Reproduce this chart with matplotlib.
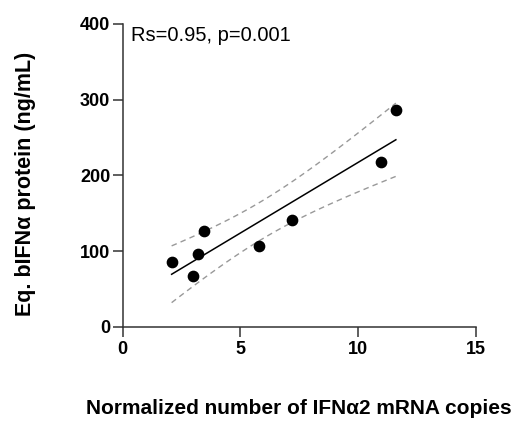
import numpy as np
import matplotlib
matplotlib.use("Agg")
import matplotlib.pyplot as plt

# values
mrna_copies = np.array([2.08, 3.0, 3.19, 3.44, 5.78, 7.21, 10.99, 11.61])
protein_ng = np.array([86, 67, 96, 126, 107, 141, 217, 286])
stats_text = "Rs=0.95, p=0.001"

plt.rcParams['font.family'] = ['Liberation Sans', 'DejaVu Sans']

fig = plt.figure(figsize=(5.17, 4.23), dpi=100)
ax = fig.add_axes([0.2373, 0.2277, 0.6827, 0.7156])

# linear fit with 95% confidence band
slope, intercept = np.polyfit(mrna_copies, protein_ng, 1)
n = len(mrna_copies)
resid = protein_ng - (slope * mrna_copies + intercept)
s_err = np.sqrt(np.sum(resid ** 2) / (n - 2))
t_val = 2.447  # t(0.975, df=6)
xs = np.linspace(mrna_copies.min(), mrna_copies.max(), 100)
ys = slope * xs + intercept
x_mean = mrna_copies.mean()
ci = t_val * s_err * np.sqrt(1 / n + (xs - x_mean) ** 2 / np.sum((mrna_copies - x_mean) ** 2))

ax.plot(xs, ys, color='black', linewidth=1.1)
ax.plot(xs, ys + ci, color='#999999', linestyle=(0, (4, 3)), linewidth=1.0)
ax.plot(xs, ys - ci, color='#999999', linestyle=(0, (4, 3)), linewidth=1.0)
ax.scatter(mrna_copies, protein_ng, s=55, color='black', zorder=3)

ax.set_xlim(0, 15)
ax.set_ylim(0, 400)
ax.set_xticks([0, 5, 10, 15])
ax.set_yticks([0, 100, 200, 300, 400])
for side in ['top', 'right']:
    ax.spines[side].set_visible(False)
for side in ['left', 'bottom']:
    ax.spines[side].set_linewidth(1.1)
    ax.spines[side].set_color('#333333')
ax.tick_params(direction='out', length=7, width=1.1, color='#333333',
               labelsize=13)
ax.tick_params(axis='y', pad=2)
ax.tick_params(axis='x', pad=3)
for lab in ax.get_xticklabels() + ax.get_yticklabels():
    lab.set_fontweight('bold')

fig.text(0.578, 1 - 414 / 423, "Normalized number of IFNα2 mRNA copies",
         fontsize=15, fontweight='bold', ha='center', va='baseline')
fig.text(0.050, 0.565, "Eq. bIFNα protein (ng/mL)", fontsize=15.5,
         fontweight='bold', rotation=90, ha='center', va='center')
fig.text(131 / 517, 1 - 40.7 / 423, stats_text, fontsize=14.5,
         ha='left', va='baseline')

fig.savefig('out.png', dpi=100, facecolor='white')
